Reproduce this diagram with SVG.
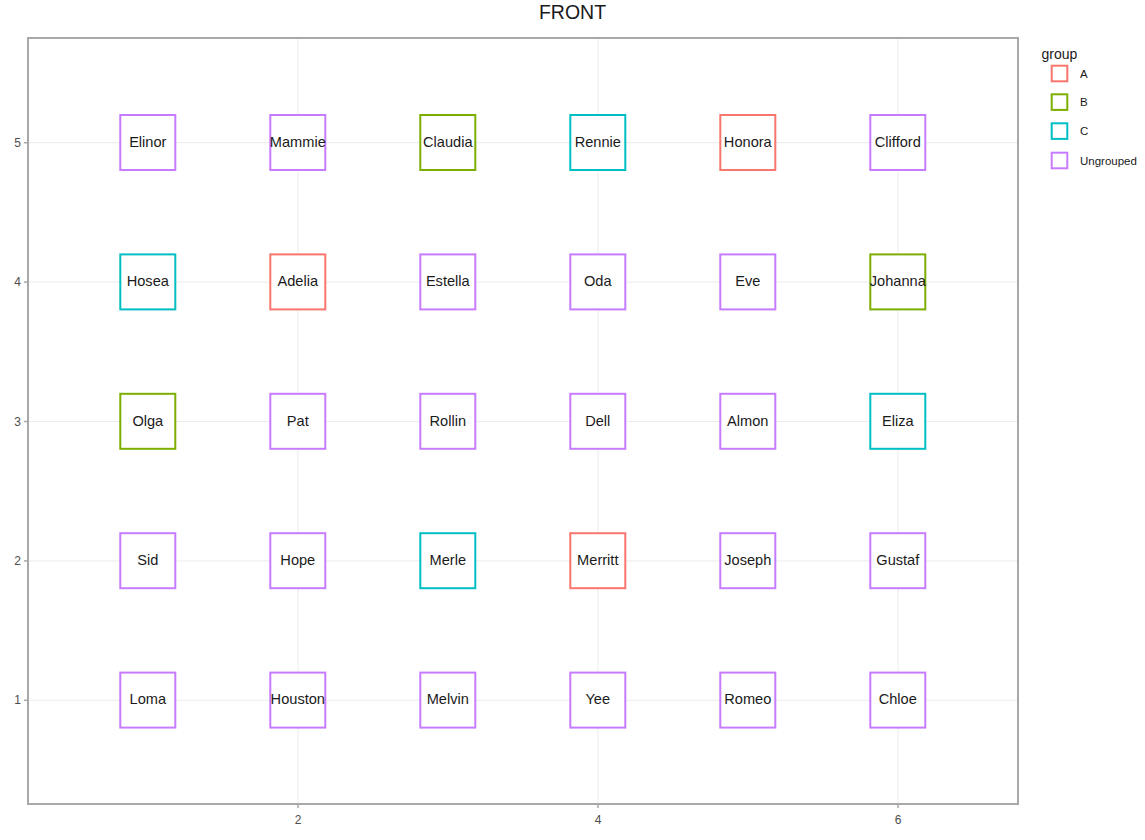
<svg xmlns="http://www.w3.org/2000/svg" width="1145" height="840" viewBox="0 0 1145 840">
<style>
.grid{stroke:#EBEBEB;stroke-width:1;fill:none}
.border{stroke:#A8A8A8;stroke-width:2;fill:none}
.tick{stroke:#A8A8A8;stroke-width:1.5}
.axt{font-family:"Liberation Sans",Arial,sans-serif;font-size:12px;fill:#4D4D4D}
.box{fill:#FFFFFF;stroke-width:2}
.lbl{font-family:"Liberation Sans",Arial,sans-serif;font-size:14.6px;fill:#1A1A1A;text-anchor:middle}
.A{stroke:#F8766D}.B{stroke:#7CAE00}.C{stroke:#00BFC4}.U{stroke:#C77CFF}
.leg{font-family:"Liberation Sans",Arial,sans-serif;font-size:11.5px;fill:#1A1A1A}
</style>
<rect width="1145" height="840" fill="#FFFFFF"/>
<text x="572.5" y="19" font-family="'Liberation Sans',Arial,sans-serif" font-size="19.5" fill="#1A1A1A" text-anchor="middle">FRONT</text>
<g id="grid">
<line class="grid" x1="28" y1="142.7" x2="1018" y2="142.7"/>
<line class="grid" x1="28" y1="282.1" x2="1018" y2="282.1"/>
<line class="grid" x1="28" y1="421.5" x2="1018" y2="421.5"/>
<line class="grid" x1="28" y1="560.9" x2="1018" y2="560.9"/>
<line class="grid" x1="28" y1="700.3" x2="1018" y2="700.3"/>
<line class="grid" x1="298" y1="38" x2="298" y2="804"/>
<line class="grid" x1="598" y1="38" x2="598" y2="804"/>
<line class="grid" x1="898" y1="38" x2="898" y2="804"/>
</g>
<g id="axes">
<line class="tick" x1="24" y1="142.7" x2="28" y2="142.7"/>
<line class="tick" x1="24" y1="282.1" x2="28" y2="282.1"/>
<line class="tick" x1="24" y1="421.5" x2="28" y2="421.5"/>
<line class="tick" x1="24" y1="560.9" x2="28" y2="560.9"/>
<line class="tick" x1="24" y1="700.3" x2="28" y2="700.3"/>
<line class="tick" x1="298" y1="804" x2="298" y2="808"/>
<line class="tick" x1="598" y1="804" x2="598" y2="808"/>
<line class="tick" x1="898" y1="804" x2="898" y2="808"/>
<text class="axt" x="21" y="146.8" text-anchor="end">5</text>
<text class="axt" x="21" y="286.2" text-anchor="end">4</text>
<text class="axt" x="21" y="425.6" text-anchor="end">3</text>
<text class="axt" x="21" y="565" text-anchor="end">2</text>
<text class="axt" x="21" y="704.4" text-anchor="end">1</text>
<text class="axt" x="298" y="824" text-anchor="middle">2</text>
<text class="axt" x="598" y="824" text-anchor="middle">4</text>
<text class="axt" x="898" y="824" text-anchor="middle">6</text>
</g>
<g id="connectors"></g>
<g id="nodes">
<g id="n-Elinor"><rect class="box U" x="120.3" y="115" width="55" height="55"/><text class="lbl" x="147.8" y="146.7">Elinor</text></g>
<g id="n-Mammie"><rect class="box U" x="270.3" y="115" width="55" height="55"/><text class="lbl" x="297.8" y="146.7">Mammie</text></g>
<g id="n-Claudia"><rect class="box B" x="420.3" y="115" width="55" height="55"/><text class="lbl" x="447.8" y="146.7">Claudia</text></g>
<g id="n-Rennie"><rect class="box C" x="570.3" y="115" width="55" height="55"/><text class="lbl" x="597.8" y="146.7">Rennie</text></g>
<g id="n-Honora"><rect class="box A" x="720.3" y="115" width="55" height="55"/><text class="lbl" x="747.8" y="146.7">Honora</text></g>
<g id="n-Clifford"><rect class="box U" x="870.3" y="115" width="55" height="55"/><text class="lbl" x="897.8" y="146.7">Clifford</text></g>

<g id="n-Hosea"><rect class="box C" x="120.3" y="254.4" width="55" height="55"/><text class="lbl" x="147.8" y="286.1">Hosea</text></g>
<g id="n-Adelia"><rect class="box A" x="270.3" y="254.4" width="55" height="55"/><text class="lbl" x="297.8" y="286.1">Adelia</text></g>
<g id="n-Estella"><rect class="box U" x="420.3" y="254.4" width="55" height="55"/><text class="lbl" x="447.8" y="286.1">Estella</text></g>
<g id="n-Oda"><rect class="box U" x="570.3" y="254.4" width="55" height="55"/><text class="lbl" x="597.8" y="286.1">Oda</text></g>
<g id="n-Eve"><rect class="box U" x="720.3" y="254.4" width="55" height="55"/><text class="lbl" x="747.8" y="286.1">Eve</text></g>
<g id="n-Johanna"><rect class="box B" x="870.3" y="254.4" width="55" height="55"/><text class="lbl" x="897.8" y="286.1">Johanna</text></g>

<g id="n-Olga"><rect class="box B" x="120.3" y="393.8" width="55" height="55"/><text class="lbl" x="147.8" y="425.5">Olga</text></g>
<g id="n-Pat"><rect class="box U" x="270.3" y="393.8" width="55" height="55"/><text class="lbl" x="297.8" y="425.5">Pat</text></g>
<g id="n-Rollin"><rect class="box U" x="420.3" y="393.8" width="55" height="55"/><text class="lbl" x="447.8" y="425.5">Rollin</text></g>
<g id="n-Dell"><rect class="box U" x="570.3" y="393.8" width="55" height="55"/><text class="lbl" x="597.8" y="425.5">Dell</text></g>
<g id="n-Almon"><rect class="box U" x="720.3" y="393.8" width="55" height="55"/><text class="lbl" x="747.8" y="425.5">Almon</text></g>
<g id="n-Eliza"><rect class="box C" x="870.3" y="393.8" width="55" height="55"/><text class="lbl" x="897.8" y="425.5">Eliza</text></g>

<g id="n-Sid"><rect class="box U" x="120.3" y="533.2" width="55" height="55"/><text class="lbl" x="147.8" y="564.9">Sid</text></g>
<g id="n-Hope"><rect class="box U" x="270.3" y="533.2" width="55" height="55"/><text class="lbl" x="297.8" y="564.9">Hope</text></g>
<g id="n-Merle"><rect class="box C" x="420.3" y="533.2" width="55" height="55"/><text class="lbl" x="447.8" y="564.9">Merle</text></g>
<g id="n-Merritt"><rect class="box A" x="570.3" y="533.2" width="55" height="55"/><text class="lbl" x="597.8" y="564.9">Merritt</text></g>
<g id="n-Joseph"><rect class="box U" x="720.3" y="533.2" width="55" height="55"/><text class="lbl" x="747.8" y="564.9">Joseph</text></g>
<g id="n-Gustaf"><rect class="box U" x="870.3" y="533.2" width="55" height="55"/><text class="lbl" x="897.8" y="564.9">Gustaf</text></g>

<g id="n-Loma"><rect class="box U" x="120.3" y="672.6" width="55" height="55"/><text class="lbl" x="147.8" y="704.3">Loma</text></g>
<g id="n-Houston"><rect class="box U" x="270.3" y="672.6" width="55" height="55"/><text class="lbl" x="297.8" y="704.3">Houston</text></g>
<g id="n-Melvin"><rect class="box U" x="420.3" y="672.6" width="55" height="55"/><text class="lbl" x="447.8" y="704.3">Melvin</text></g>
<g id="n-Yee"><rect class="box U" x="570.3" y="672.6" width="55" height="55"/><text class="lbl" x="597.8" y="704.3">Yee</text></g>
<g id="n-Romeo"><rect class="box U" x="720.3" y="672.6" width="55" height="55"/><text class="lbl" x="747.8" y="704.3">Romeo</text></g>
<g id="n-Chloe"><rect class="box U" x="870.3" y="672.6" width="55" height="55"/><text class="lbl" x="897.8" y="704.3">Chloe</text></g>
</g>
<rect class="border" x="28" y="38" width="990" height="766"/>
<g id="legend">
<text x="1041.5" y="58.5" font-family="'Liberation Sans',Arial,sans-serif" font-size="14" fill="#1A1A1A">group</text>
<rect class="box A" x="1051.7" y="65.7" width="15.6" height="15.6"/>
<text class="leg" x="1080" y="77.5">A</text>
<rect class="box B" x="1051.7" y="94.3" width="15.6" height="15.6"/>
<text class="leg" x="1080" y="106.1">B</text>
<rect class="box C" x="1051.7" y="123.3" width="15.6" height="15.6"/>
<text class="leg" x="1080" y="135.1">C</text>
<rect class="box U" x="1051.7" y="152.7" width="15.6" height="15.6"/>
<text class="leg" x="1080" y="164.5">Ungrouped</text>
</g>
</svg>
